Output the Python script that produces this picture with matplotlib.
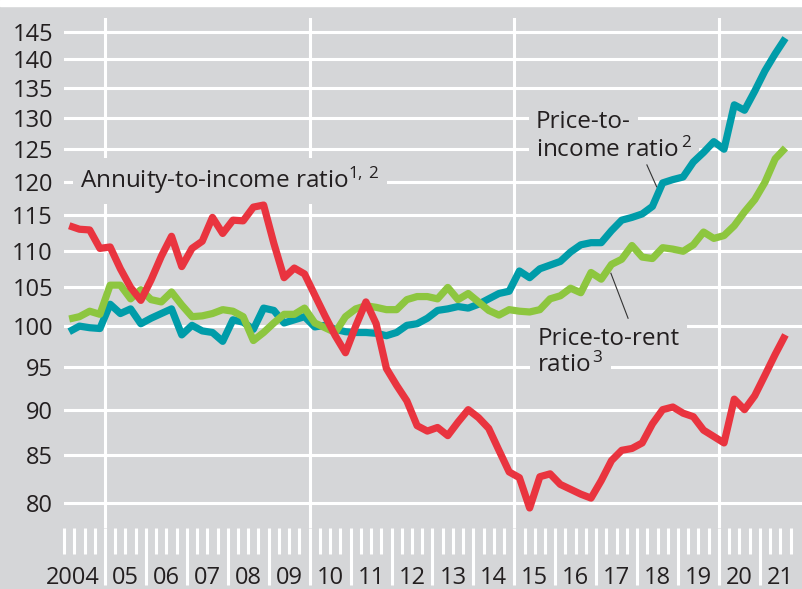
import numpy as np
import matplotlib.pyplot as plt
from matplotlib.patches import Rectangle

plt.rcParams['font.family'] = ['Open Sans', 'DejaVu Sans']
plt.rcParams['mathtext.default'] = 'regular'

# ---- data (quarterly, 2004 Q1 onwards) ----
start_year = 2004
annuity_to_income = [
    113.5, 113.0, 112.9, 110.3, 110.5, 107.5, 105.0, 103.3, 106.0, 109.2,
    112.0, 107.8, 110.3, 111.3, 114.7, 112.4, 114.3, 114.2, 116.2, 116.5,
    111.0, 106.3, 107.6, 106.8, 104.0, 101.3, 98.8, 96.7, 100.0, 103.1,
    100.3, 94.8, 92.8, 91.0, 88.2, 87.6, 88.0, 87.1, 88.6, 90.0,
    89.1, 87.9, 85.5, 83.2, 82.6, 79.5, 82.7, 83.0, 81.9, 81.4,
    80.9, 80.5, 82.3, 84.4, 85.5, 85.7, 86.3, 88.4, 90.0, 90.3,
    89.6, 89.2, 87.7, 87.0, 86.3, 91.2, 90.0, 91.6, 94.0, 96.5,
    98.9]
price_to_income = [
    99.3, 100.0, 99.8, 99.7, 102.8, 101.6, 102.2, 100.3, 101.0, 101.6,
    102.2, 98.9, 100.1, 99.4, 99.2, 98.1, 100.8, 100.5, 99.6, 102.3,
    102.0, 100.4, 100.8, 101.2, 99.9, 100.1, 99.6, 99.3, 99.2, 99.2,
    99.1, 98.8, 99.2, 100.1, 100.3, 101.0, 102.0, 102.2, 102.5, 102.3,
    102.8, 103.5, 104.2, 104.5, 107.2, 106.3, 107.5, 108.0, 108.5, 109.8,
    110.8, 111.1, 111.1, 112.8, 114.3, 114.7, 115.2, 116.3, 119.8, 120.3,
    120.7, 123.0, 124.5, 126.2, 125.0, 132.2, 131.3, 134.5, 138.0, 141.0,
    143.8]
price_to_rent = [
    100.9, 101.2, 101.9, 101.5, 105.3, 105.3, 103.5, 104.7, 103.4, 103.1,
    104.4, 102.7, 101.2, 101.3, 101.6, 102.1, 101.9, 101.2, 98.2, 99.2,
    100.4, 101.5, 101.5, 102.3, 100.4, 99.8, 99.2, 101.2, 102.2, 102.6,
    102.4, 102.1, 102.1, 103.4, 103.8, 103.8, 103.5, 105.0, 103.4, 104.2,
    103.1, 102.0, 101.4, 102.1, 101.9, 101.8, 102.1, 103.5, 103.9, 104.9,
    104.3, 107.0, 106.1, 108.1, 108.8, 110.7, 109.1, 108.9, 110.4, 110.2,
    109.9, 110.8, 112.6, 111.7, 112.1, 113.5, 115.5, 117.3, 119.9, 123.5,
    125.2]
year_labels = ['2004', '05', '06', '07', '08', '09', '10', '11', '12', '13',
               '14', '15', '16', '17', '18', '19', '20', '21']
y_ticks = [80, 85, 90, 95, 100, 105, 110, 115, 120, 125, 130, 135, 140, 145]

quarters = start_year + 0.125 + 0.25 * np.arange(len(annuity_to_income))

BG = '#d5d6d8'
TXT = '#231f20'
RED = '#e9343f'
TEAL = '#009ca9'
GREEN = '#8dc63f'

W, H = 802, 589
fig = plt.figure(figsize=(W / 100, H / 100), dpi=100, facecolor=BG)
fig.add_artist(Rectangle((0, 1 - 6 / H), 1, 6 / H, transform=fig.transFigure,
                         color='white', zorder=10))
ax = fig.add_axes([64.1 / W, 61 / H, (W - 64.1) / W, 510 / H])
ax.set_facecolor(BG)
ax.set_yscale('log')
ax.set_ylim(77.52, 147.5)
ax.set_xlim(2004, 2022.03)
for s in ax.spines.values():
    s.set_visible(False)
ax.set_axisbelow(True)

ax.set_yticks(y_ticks, labels=[str(v) for v in y_ticks])
ax.set_yticks([], minor=True)
ax.tick_params(axis='y', which='both', length=0, pad=8, labelsize=17,
               labelcolor=TXT)
ax.yaxis.grid(True, color='white', lw=2.2)

# x ticks: long year ticks, short quarter ticks
year_starts = np.arange(2005, 2022)
quarter_ticks = [q for q in np.arange(2004, 2022.01, 0.25) if q % 1 != 0 or q == 2004]
ax.set_xticks(year_starts, labels=[''] * len(year_starts))
ax.set_xticks(quarter_ticks, minor=True)
ax.tick_params(axis='x', which='major', direction='out', length=41, width=2.2,
               color='white')
ax.tick_params(axis='x', which='minor', direction='out', length=19, width=2.2,
               color='white')
for yr in [2005, 2010, 2015, 2020]:
    ax.axvline(yr, color='white', lw=2.2, zorder=0.5)

sec = ax.secondary_xaxis('bottom')
label_pos = [start_year + 0.205] + [y + 0.5 for y in range(2005, 2022)]
sec.set_xticks(label_pos, labels=year_labels)
sec.set_xticks([], minor=True)
sec.tick_params(axis='x', length=0, pad=27, labelsize=17, labelcolor=TXT)
for s in sec.spines.values():
    s.set_visible(False)

lw = 5.2
ax.plot(quarters, price_to_income, color=TEAL, lw=lw, zorder=3,
        solid_joinstyle='round', solid_capstyle='butt')
ax.plot(quarters, price_to_rent, color=GREEN, lw=lw, zorder=3.1,
        solid_joinstyle='round', solid_capstyle='butt')
ax.plot(quarters, annuity_to_income, color=RED, lw=lw, zorder=3.2,
        solid_joinstyle='round', solid_capstyle='butt')

bbox = dict(boxstyle='square,pad=0.3', facecolor=BG, edgecolor='none')
fs = 17.5
ax.text(2004.39, 119.0, 'Annuity-to-income ratio$^{1,\\,2}$', fontsize=fs,
        color=TXT, va='baseline', ha='left', bbox=bbox, zorder=2)
ax.text(2015.53, 128.4, 'Price-to-', fontsize=fs, color=TXT, va='baseline',
        ha='left', bbox=bbox, zorder=2)
ax.text(2015.53, 123.8, 'income ratio$^{\\,2}$', fontsize=fs, color=TXT,
        va='baseline', ha='left', bbox=bbox, zorder=2)
ax.text(2015.56, 97.65, 'Price-to-rent', fontsize=fs, color=TXT,
        va='baseline', ha='left', bbox=bbox, zorder=2)
ax.text(2015.56, 94.4, 'ratio$^{\\,3}$', fontsize=fs, color=TXT,
        va='baseline', ha='left', bbox=bbox, zorder=2)

ax.plot([2018.24, 2018.48], [122.55, 119.2], color='#333333', lw=0.8, zorder=2.5)
ax.plot([2017.36, 2017.78], [106.9, 101.0], color='#333333', lw=0.8, zorder=2.5)

fig.savefig('out.png', dpi=100, facecolor=BG)
